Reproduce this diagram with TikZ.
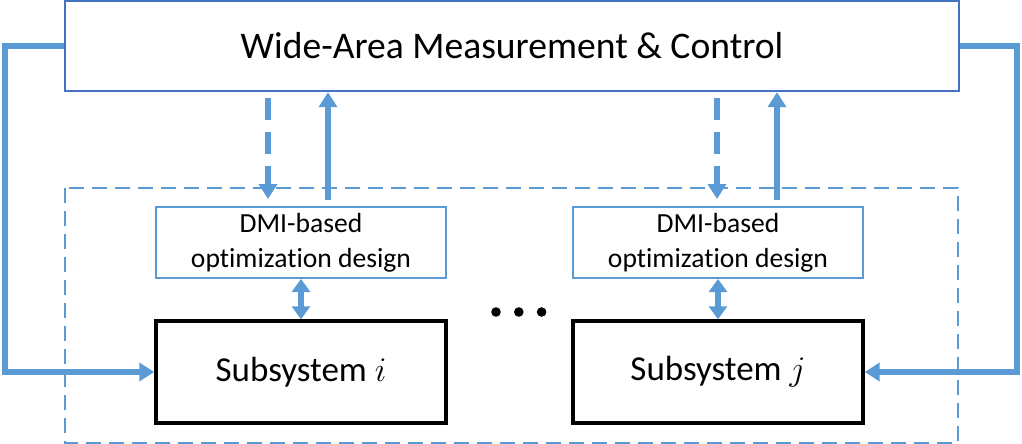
\documentclass[tikz,border=0pt]{standalone}
\usepackage{fontspec}
\setmainfont{Carlito}[Ligatures=NoCommon]
\usepackage{tikz}
\usepackage{xcolor}
\usetikzlibrary{arrows.meta,positioning,calc}
\definecolor{wamblue}{HTML}{4472C4}
\definecolor{lineblue}{HTML}{5B9BD5}
\definecolor{ink}{HTML}{000000}
\tikzset{
  wambox/.style={draw=wamblue,fill=white,line width=1.2pt,
                 minimum width=447pt,minimum height=45pt,
                 align=center,font=\fontsize{18.8}{23}\selectfont,inner sep=0pt},
  dmibox/.style={draw=lineblue,fill=white,line width=1pt,
                 minimum width=145pt,minimum height=35.5pt,
                 align=center,font=\fontsize{13.8}{17.5}\selectfont,inner sep=0pt},
  subbox/.style={draw=ink,fill=white,line width=1.7pt,
                 minimum width=145pt,minimum height=51pt,
                 align=center,font=\fontsize{17.5}{21}\selectfont,inner sep=0pt},
  groupline/.style={draw=lineblue,line width=1.2pt,dash pattern=on 7.5pt off 4pt},
  fbarr/.style={-{Triangle[length=7.5pt,width=9pt]},draw=lineblue,line width=2.6pt},
  uparr/.style={-{Triangle[length=7.5pt,width=9pt]},draw=lineblue,line width=2.6pt},
  dasharr/.style={-{Triangle[length=7.5pt,width=9pt]},draw=lineblue,line width=2.6pt,
                  dash pattern=on 11pt off 6pt},
  dblarr/.style={{Triangle[length=6.5pt,width=9pt]}-{Triangle[length=6.5pt,width=9pt]},
                 draw=lineblue,line width=2.6pt},
  dotmark/.style={circle,fill=ink,inner sep=0pt,minimum size=4.8pt}
}

\begin{document}
\begin{tikzpicture}[x=0.5pt,y=-0.5pt]
  \useasboundingbox (0,0) rectangle (1022,444);

  % group of subsystems
  \draw[groupline] (65,188) rectangle (958,443);

  \node[wambox] (wamc) at (512,46) {Wide-Area Measurement \& Control};

  \node[dmibox] (dmii) at (301,242.5) {DMI-based\\optimization design};
  \node[dmibox] (dmij) at (718,242.5) {DMI-based\\optimization design};
  \node[subbox] (subi) at (301,372) {Subsystem $i$};
  \node[subbox] (subj) at (718,372) {Subsystem $j$};

  \node[dotmark] (dota) at (496,312) {};
  \node[dotmark,right=6.2pt of dota] (dotb) {};
  \node[dotmark,right=6.2pt of dotb] (dotc) {};

  % links to the wide-area layer
  \draw[dasharr,shorten <=3pt] ([xshift=-16.5pt]dmii.north |- wamc.south) -- ([xshift=-16.5pt,yshift=3.5pt]dmii.north);
  \draw[uparr] ([xshift=13.5pt,yshift=3pt]dmii.north) -- ([xshift=13.5pt]dmii.north |- wamc.south);
  \draw[dasharr,shorten <=3pt] ([xshift=-0.5pt]dmij.north |- wamc.south) -- ([xshift=-0.5pt,yshift=3.5pt]dmij.north);
  \draw[uparr] ([xshift=29.5pt,yshift=3pt]dmij.north) -- ([xshift=29.5pt]dmij.north |- wamc.south);

  \draw[dblarr] (dmii.south) -- (subi.north);
  \draw[dblarr] (dmij.south) -- (subj.north);

  % feedback paths
  \coordinate (lrail) at (5,200);
  \coordinate (rrail) at (1017,200);
  \draw[fbarr] (wamc.west) -| (lrail) |- (subi.west);
  \draw[fbarr] (wamc.east) -| (rrail) |- (subj.east);
\end{tikzpicture}
\end{document}
